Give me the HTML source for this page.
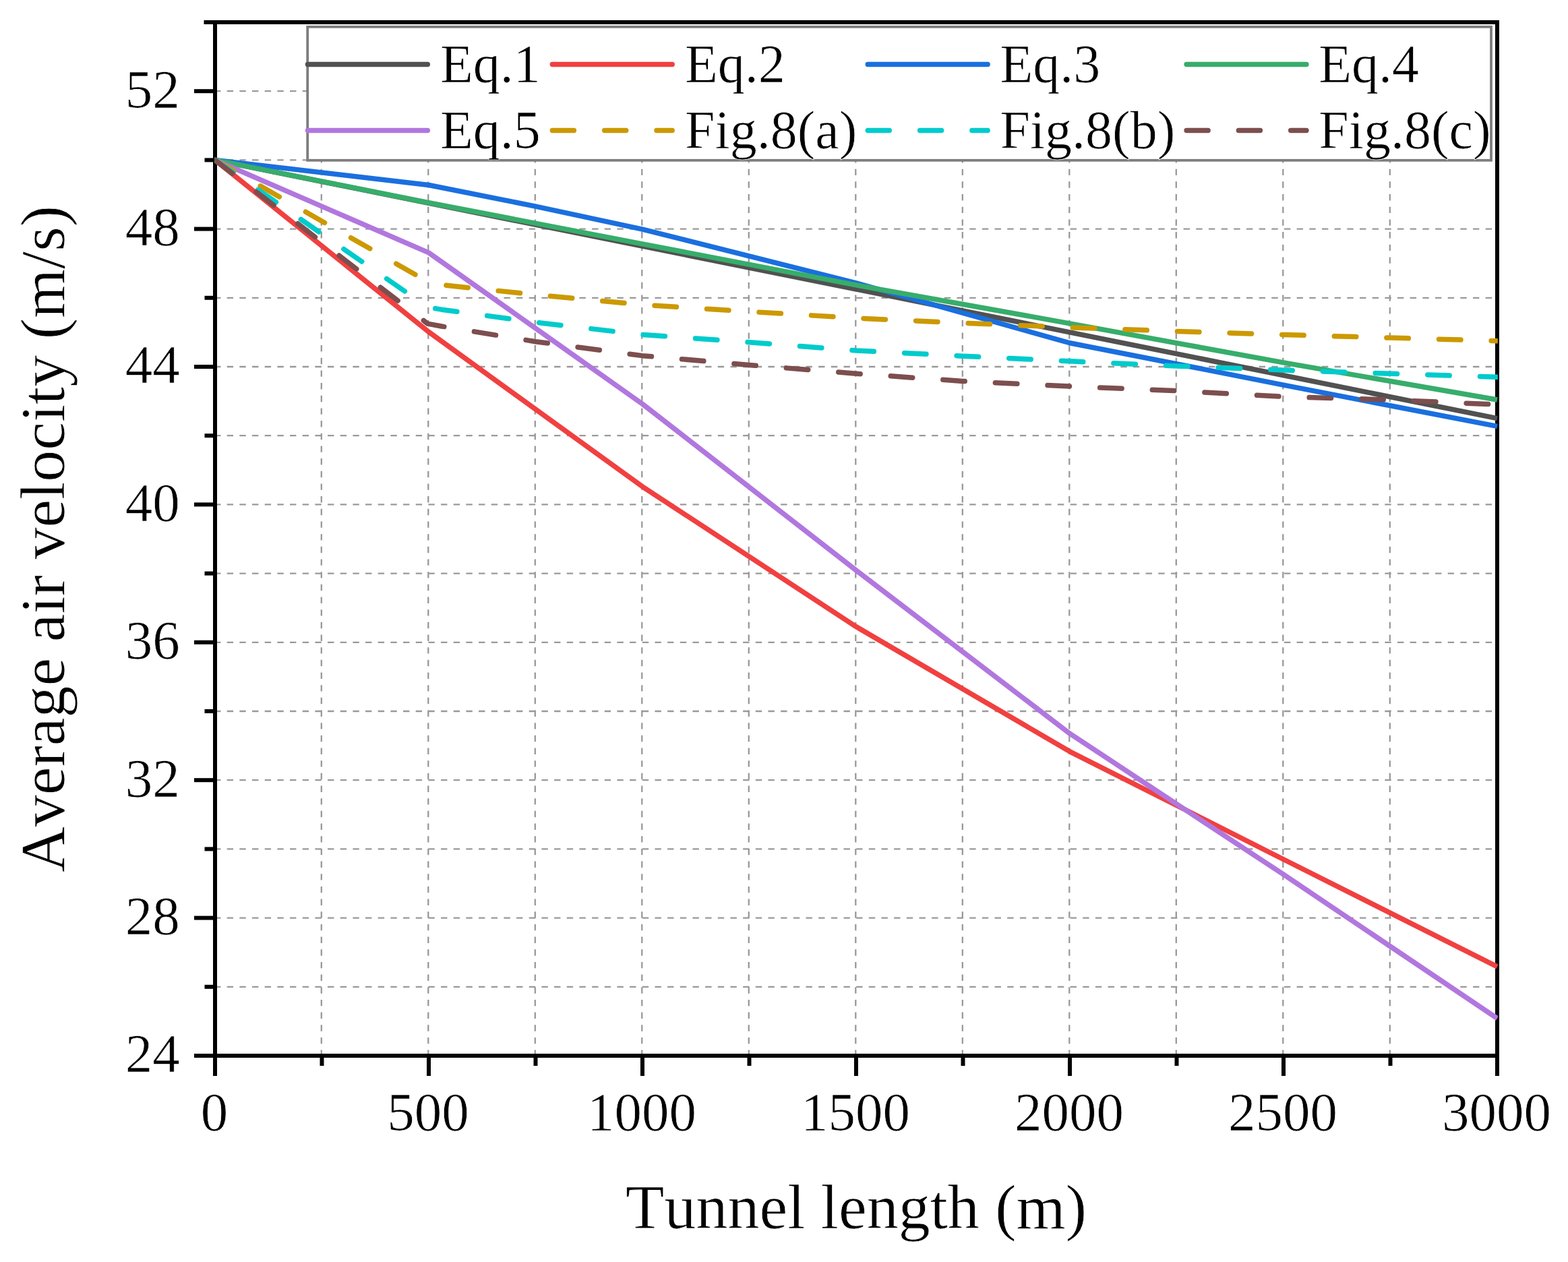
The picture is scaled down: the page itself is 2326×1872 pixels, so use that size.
<!DOCTYPE html>
<html lang="en"><head><meta charset="utf-8"><title>Average air velocity vs tunnel length</title>
<style>
html,body{margin:0;padding:0;background:#fff;}
body{width:2326px;height:1872px;overflow:hidden;}
svg{display:block;}
text{font-family:"Liberation Serif","Times New Roman",serif;fill:#000;font-kerning:none;stroke:#fff;stroke-width:0.7px;stroke-linejoin:round;}
</style></head><body>
<svg xmlns="http://www.w3.org/2000/svg" width="2326" height="1872" viewBox="0 0 2326 1872">
<rect x="0" y="0" width="2326" height="1872" fill="#ffffff"/>
<defs><clipPath id="plot"><rect x="318.5" y="33.0" width="1903.3" height="1533.0"/></clipPath></defs>
<g stroke="#999999" stroke-width="2.3" stroke-dasharray="9.4 9.27" fill="none">
<line x1="318.00" y1="1463.80" x2="2221.00" y2="1463.80"/>
<line x1="318.00" y1="1361.60" x2="2221.00" y2="1361.60"/>
<line x1="318.00" y1="1259.40" x2="2221.00" y2="1259.40"/>
<line x1="318.00" y1="1157.20" x2="2221.00" y2="1157.20"/>
<line x1="318.00" y1="1055.00" x2="2221.00" y2="1055.00"/>
<line x1="318.00" y1="952.80" x2="2221.00" y2="952.80"/>
<line x1="318.00" y1="850.60" x2="2221.00" y2="850.60"/>
<line x1="318.00" y1="748.40" x2="2221.00" y2="748.40"/>
<line x1="318.00" y1="646.20" x2="2221.00" y2="646.20"/>
<line x1="318.00" y1="544.00" x2="2221.00" y2="544.00"/>
<line x1="318.00" y1="441.80" x2="2221.00" y2="441.80"/>
<line x1="318.00" y1="339.60" x2="2221.00" y2="339.60"/>
<line x1="318.00" y1="237.40" x2="2221.00" y2="237.40"/>
<line x1="318.00" y1="135.20" x2="2221.00" y2="135.20"/>
<line x1="476.80" y1="1567.00" x2="476.80" y2="37.00"/>
<line x1="635.30" y1="1567.00" x2="635.30" y2="37.00"/>
<line x1="793.80" y1="1567.00" x2="793.80" y2="37.00"/>
<line x1="952.30" y1="1567.00" x2="952.30" y2="37.00"/>
<line x1="1110.80" y1="1567.00" x2="1110.80" y2="37.00"/>
<line x1="1269.30" y1="1567.00" x2="1269.30" y2="37.00"/>
<line x1="1427.80" y1="1567.00" x2="1427.80" y2="37.00"/>
<line x1="1586.30" y1="1567.00" x2="1586.30" y2="37.00"/>
<line x1="1744.80" y1="1567.00" x2="1744.80" y2="37.00"/>
<line x1="1903.30" y1="1567.00" x2="1903.30" y2="37.00"/>
<line x1="2061.80" y1="1567.00" x2="2061.80" y2="37.00"/>
</g>
<g stroke="#000" stroke-width="6" fill="none" stroke-linecap="butt">
<line x1="319.00" y1="30.00" x2="319.00" y2="1596.00"/>
<line x1="2221.00" y1="30.00" x2="2221.00" y2="1596.00"/>
<line x1="302.50" y1="33.00" x2="2224.00" y2="33.00"/>
<line x1="288.00" y1="1566.00" x2="2224.00" y2="1566.00"/>
<line x1="288.00" y1="1566.00" x2="319.00" y2="1566.00"/>
<line x1="303.50" y1="1463.80" x2="319.00" y2="1463.80"/>
<line x1="288.00" y1="1361.60" x2="319.00" y2="1361.60"/>
<line x1="303.50" y1="1259.40" x2="319.00" y2="1259.40"/>
<line x1="288.00" y1="1157.20" x2="319.00" y2="1157.20"/>
<line x1="303.50" y1="1055.00" x2="319.00" y2="1055.00"/>
<line x1="288.00" y1="952.80" x2="319.00" y2="952.80"/>
<line x1="303.50" y1="850.60" x2="319.00" y2="850.60"/>
<line x1="288.00" y1="748.40" x2="319.00" y2="748.40"/>
<line x1="303.50" y1="646.20" x2="319.00" y2="646.20"/>
<line x1="288.00" y1="544.00" x2="319.00" y2="544.00"/>
<line x1="303.50" y1="441.80" x2="319.00" y2="441.80"/>
<line x1="288.00" y1="339.60" x2="319.00" y2="339.60"/>
<line x1="303.50" y1="237.40" x2="319.00" y2="237.40"/>
<line x1="288.00" y1="135.20" x2="319.00" y2="135.20"/>
<line x1="303.50" y1="33.00" x2="319.00" y2="33.00"/>
<line x1="319.00" y1="1566.00" x2="319.00" y2="1596.00"/>
<line x1="477.50" y1="1566.00" x2="477.50" y2="1581.00"/>
<line x1="636.00" y1="1566.00" x2="636.00" y2="1596.00"/>
<line x1="794.50" y1="1566.00" x2="794.50" y2="1581.00"/>
<line x1="953.00" y1="1566.00" x2="953.00" y2="1596.00"/>
<line x1="1111.50" y1="1566.00" x2="1111.50" y2="1581.00"/>
<line x1="1270.00" y1="1566.00" x2="1270.00" y2="1596.00"/>
<line x1="1428.50" y1="1566.00" x2="1428.50" y2="1581.00"/>
<line x1="1587.00" y1="1566.00" x2="1587.00" y2="1596.00"/>
<line x1="1745.50" y1="1566.00" x2="1745.50" y2="1581.00"/>
<line x1="1904.00" y1="1566.00" x2="1904.00" y2="1596.00"/>
<line x1="2062.50" y1="1566.00" x2="2062.50" y2="1581.00"/>
<line x1="2221.00" y1="1566.00" x2="2221.00" y2="1596.00"/>
</g>
<g clip-path="url(#plot)" fill="none" stroke-width="7.5" stroke-linejoin="round">
<path d="M319.00,237.40 L2221.00,620.65" stroke="#515151"/>
<path d="M319.00,237.40 L636.00,492.39 L953.00,721.83 L1270.00,929.55 L1587.00,1114.79 L1904.00,1274.73 L2221.00,1433.91" stroke="#F14040"/>
<path d="M319.00,237.40 L636.00,274.45 L794.50,306.13 L953.00,340.11 L1270.00,419.83 L1587.00,508.74 L1904.00,571.08 L2221.00,632.40" stroke="#1A6FDF"/>
<path d="M319.00,237.40 L636.00,300.76 L953.00,361.83 L1270.00,422.89 L1587.00,479.87 L1904.00,537.87 L2221.00,593.06" stroke="#37AD6B"/>
<path d="M319.00,237.40 L636.00,374.86 L953.00,599.19 L1270.00,846.00 L1587.00,1088.21 L1904.00,1297.21 L2221.00,1510.56" stroke="#B177DE"/>
<path d="M319.00,237.40 L637.90,419.83 L644.08,421.36" stroke="#CC9900" stroke-dasharray="32.50 44.90" stroke-linecap="round"/>
<path d="M661.95,423.29 L794.50,437.20 L953.00,452.02 L1111.50,462.24 L1270.00,471.95 L1428.50,479.10 L1587.00,485.75 L1745.50,491.37 L1904.00,496.48 L2062.50,501.08 L2221.00,505.68" stroke="#CC9900" stroke-dasharray="32.50 45.14" stroke-linecap="round"/>
<path d="M319.00,237.40 L628.95,451.75" stroke="#00CBCC" stroke-dasharray="32.50 44.90" stroke-linecap="round"/>
<path d="M645.75,457.62 L655.02,459.17 L794.50,478.08 L953.00,496.48 L1111.50,507.72 L1270.00,519.98 L1428.50,528.16 L1587.00,535.82 L1745.50,542.98 L1904.00,549.11 L2062.50,554.22 L2221.00,559.33" stroke="#00CBCC" stroke-dasharray="32.50 45.19" stroke-linecap="round"/>
<path d="M319.00,237.40 L614.09,464.52" stroke="#7D4E4E" stroke-dasharray="32.50 44.90" stroke-linecap="round"/>
<path d="M628.35,475.49 L628.39,475.53 L634.10,480.12 L655.02,483.96 L794.50,506.70 L953.00,527.65 L1111.50,541.45 L1270.00,554.22 L1428.50,565.46 L1587.00,573.13 L1745.50,579.77 L1904.00,588.46 L2062.50,593.06 L2221.00,600.21" stroke="#7D4E4E" stroke-dasharray="32.50 45.21" stroke-linecap="round"/>
</g>
<rect x="456.2" y="39.8" width="1755.8" height="198.0" fill="#fff" stroke="#7d7d7d" stroke-width="3.8"/>
<line x1="456.50" y1="95.40" x2="634.30" y2="95.40" stroke="#515151" stroke-width="7.5" stroke-linecap="round"/>
<text x="653.00" y="122.20" font-size="80">Eq.1</text>
<line x1="819.40" y1="95.40" x2="997.20" y2="95.40" stroke="#F14040" stroke-width="7.5" stroke-linecap="round"/>
<text x="1016.00" y="122.20" font-size="80">Eq.2</text>
<line x1="1287.30" y1="95.40" x2="1465.10" y2="95.40" stroke="#1A6FDF" stroke-width="7.5" stroke-linecap="round"/>
<text x="1483.40" y="122.20" font-size="80">Eq.3</text>
<line x1="1760.10" y1="95.40" x2="1937.90" y2="95.40" stroke="#37AD6B" stroke-width="7.5" stroke-linecap="round"/>
<text x="1956.20" y="122.20" font-size="80">Eq.4</text>
<line x1="456.50" y1="193.50" x2="634.30" y2="193.50" stroke="#B177DE" stroke-width="7.5" stroke-linecap="round"/>
<text x="653.00" y="220.00" font-size="80">Eq.5</text>
<line x1="819.40" y1="193.50" x2="997.20" y2="193.50" stroke="#CC9900" stroke-width="7.5" stroke-linecap="round" stroke-dasharray="32 45.3"/>
<text x="1016.00" y="220.00" font-size="80">Fig.8(a)</text>
<line x1="1287.30" y1="193.50" x2="1465.10" y2="193.50" stroke="#00CBCC" stroke-width="7.5" stroke-linecap="round" stroke-dasharray="32 45.3"/>
<text x="1483.40" y="220.00" font-size="80">Fig.8(b)</text>
<line x1="1760.10" y1="193.50" x2="1937.90" y2="193.50" stroke="#7D4E4E" stroke-width="7.5" stroke-linecap="round" stroke-dasharray="32 45.3"/>
<text x="1956.20" y="220.00" font-size="80">Fig.8(c)</text>
<text x="266.70" y="1590.30" font-size="81" text-anchor="end">24</text>
<text x="266.70" y="1385.90" font-size="81" text-anchor="end">28</text>
<text x="266.70" y="1181.50" font-size="81" text-anchor="end">32</text>
<text x="266.70" y="977.10" font-size="81" text-anchor="end">36</text>
<text x="266.70" y="772.70" font-size="81" text-anchor="end">40</text>
<text x="266.70" y="568.30" font-size="81" text-anchor="end">44</text>
<text x="266.70" y="363.90" font-size="81" text-anchor="end">48</text>
<text x="266.70" y="159.50" font-size="81" text-anchor="end">52</text>
<text x="318.00" y="1677.40" font-size="81" text-anchor="middle">0</text>
<text x="635.00" y="1677.40" font-size="81" text-anchor="middle">500</text>
<text x="952.00" y="1677.40" font-size="81" text-anchor="middle">1000</text>
<text x="1269.00" y="1677.40" font-size="81" text-anchor="middle">1500</text>
<text x="1586.00" y="1677.40" font-size="81" text-anchor="middle">2000</text>
<text x="1903.00" y="1677.40" font-size="81" text-anchor="middle">2500</text>
<text x="2220.00" y="1677.40" font-size="81" text-anchor="middle">3000</text>
<text x="1270.00" y="1822.40" font-size="94" text-anchor="middle">Tunnel length (m)</text>
<text transform="translate(95.00,799.50) rotate(-90)" font-size="94" text-anchor="middle">Average air velocity (m/s)</text>
</svg>
</body></html>
